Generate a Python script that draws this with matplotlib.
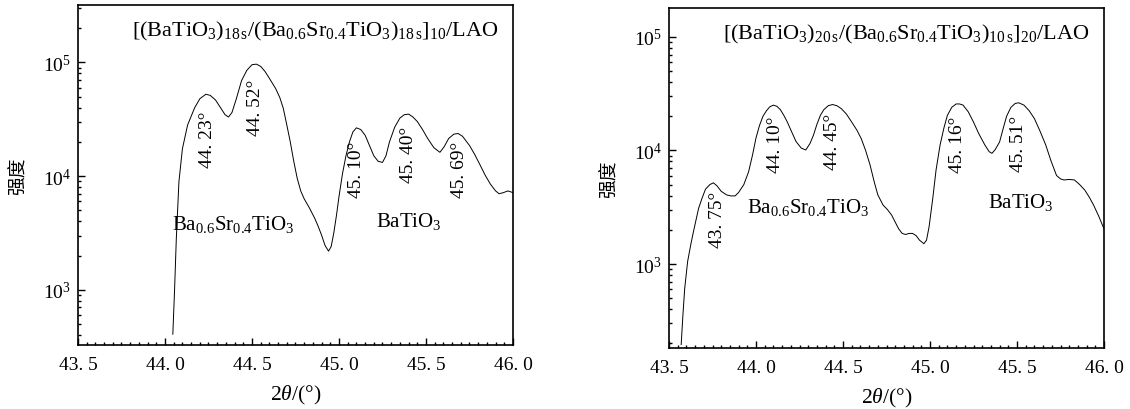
import matplotlib
matplotlib.use("Agg")
import matplotlib.pyplot as plt
from matplotlib.ticker import FixedLocator, FixedFormatter, LogLocator, NullFormatter

plt.rcParams['font.family'] = ['Liberation Serif', 'Noto Sans CJK SC']
plt.rcParams['mathtext.fontset'] = 'custom'
plt.rcParams['mathtext.rm'] = 'Liberation Serif'
plt.rcParams['mathtext.it'] = 'Liberation Serif:italic'

# left panel: [(BaTiO3)18s/(Ba0.6Sr0.4TiO3)18s]10/LAO
x_a = [44.045, 44.055, 44.065, 44.08, 44.10, 44.13, 44.17, 44.20, 44.235, 44.26,
       44.29, 44.32, 44.345, 44.365, 44.385, 44.41, 44.44, 44.47, 44.50, 44.525,
       44.55, 44.575, 44.60, 44.636, 44.66, 44.68, 44.70, 44.72, 44.74, 44.76,
       44.78, 44.80, 44.83, 44.86, 44.88, 44.90, 44.92, 44.94, 44.955, 44.97,
       44.985, 45.00, 45.02, 45.04, 45.06, 45.08, 45.10, 45.125, 45.15, 45.175,
       45.20, 45.225, 45.25, 45.27, 45.29, 45.32, 45.35, 45.375, 45.40, 45.425,
       45.45, 45.48, 45.51, 45.545, 45.58, 45.605, 45.63, 45.66, 45.685, 45.71,
       45.75, 45.78, 45.81, 45.84, 45.87, 45.90, 45.92, 45.945, 45.97, 46.0]
y_a = [407, 1000, 2820, 8910, 17400, 28200, 39800, 47900, 52500, 51300,
       46800, 39800, 34700, 33100, 36300, 47900, 69200, 85100, 95500, 96600,
       92300, 83200, 72400, 58900, 49000, 39400, 28200, 20000, 13500, 9550,
       7410, 6310, 5250, 4270, 3630, 3020, 2450, 2190, 2400, 3160,
       4470, 6610, 10500, 15100, 20000, 24500, 26600, 25700, 22900, 18600,
       15100, 13500, 13200, 15100, 20000, 26900, 32400, 34700, 35100, 33100,
       30200, 25700, 21400, 17800, 16200, 18200, 21400, 23400, 23700, 22400,
       18600, 15500, 12600, 10200, 8510, 7410, 7000, 7160, 7410, 7160]

# right panel: [(BaTiO3)20s/(Ba0.6Sr0.4TiO3)10s]20/LAO
x_b = [43.57, 43.58, 43.59, 43.607, 43.625, 43.64, 43.67, 43.69, 43.71, 43.735,
       43.755, 43.775, 43.80, 43.83, 43.855, 43.88, 43.90, 43.93, 43.957, 43.98,
       44.00, 44.02, 44.04, 44.06, 44.08, 44.10, 44.12, 44.14, 44.16, 44.18,
       44.205, 44.23, 44.26, 44.286, 44.31, 44.33, 44.35, 44.37, 44.39, 44.415,
       44.44, 44.465, 44.49, 44.52, 44.55, 44.58, 44.605, 44.63, 44.656, 44.68,
       44.70, 44.73, 44.755, 44.78, 44.80, 44.82, 44.84, 44.86, 44.88, 44.90,
       44.92, 44.94, 44.965, 44.98, 44.995, 45.016, 45.035, 45.058, 45.08, 45.10,
       45.125, 45.15, 45.17, 45.19, 45.22, 45.25, 45.28, 45.315, 45.34, 45.356,
       45.375, 45.40, 45.42, 45.44, 45.465, 45.49, 45.51, 45.54, 45.57, 45.60,
       45.63, 45.665, 45.695, 45.727, 45.75, 45.77, 45.80, 45.83, 45.86, 45.89,
       45.915, 45.94, 45.97, 46.0]
y_b = [195, 355, 603, 1050, 1480, 1910, 3090, 3800, 4570, 5010,
       5190, 4900, 4370, 4070, 3980, 3980, 4270, 5010, 6460, 9120,
       12900, 16600, 20000, 22400, 24300, 25100, 24500, 22900, 20400, 17800,
       14600, 12000, 10500, 10100, 11500, 13600, 17000, 20400, 22900, 24800,
       25400, 24800, 23400, 20900, 17800, 15100, 12700, 10000, 7410, 5250,
       4070, 3310, 3020, 2690, 2340, 2040, 1860, 1820, 1860, 1860,
       1780, 1620, 1510, 1620, 2140, 3800, 6760, 11200, 15800, 20400,
       24000, 25700, 25700, 25100, 21900, 17800, 14100, 11200, 9770, 9440,
       10200, 11900, 15500, 20000, 24000, 26000, 26300, 25100, 22400, 19100,
       15100, 11200, 8130, 6030, 5620, 5500, 5560, 5500, 5010, 4470,
       3890, 3310, 2630, 2040]

xticks = [43.5, 44.0, 44.5, 45.0, 45.5, 46.0]
xticklabels = ['43. 5', '44. 0', '44. 5', '45. 0', '45. 5', '46. 0']

peaks_a = ['44. 23°', '44. 52°', '45. 10°', '45. 40°', '45. 69°']
peaks_b = ['43. 75°', '44. 10°', '44. 45°', '45. 16°', '45. 51°']

title_a = r'[(BaTiO$_3$)$_{18\,\mathrm{s}}$/(Ba$_{0.6}$Sr$_{0.4}$TiO$_3$)$_{18\,\mathrm{s}}$]$_{10}$/LAO'
title_b = r'[(BaTiO$_3$)$_{20\,\mathrm{s}}$/(Ba$_{0.6}$Sr$_{0.4}$TiO$_3$)$_{10\,\mathrm{s}}$]$_{20}$/LAO'
bst = r'Ba$_{0.6}$Sr$_{0.4}$TiO$_3$'
bto = r'BaTiO$_3$'

W, H = 1130, 410
fig = plt.figure(figsize=(W / 100, H / 100), dpi=100)


def px(x0, y0, x1, y1):
    # axes rectangle from pixel corners
    return [x0 / W, 1 - y1 / H, (x1 - x0) / W, (y1 - y0) / H]


def style(ax, ylim):
    ax.set_yscale('log')
    ax.set_xlim(43.5, 46.0)
    ax.set_ylim(*ylim)
    ax.xaxis.set_major_locator(FixedLocator(xticks))
    ax.xaxis.set_major_formatter(FixedFormatter(xticklabels))
    ax.xaxis.set_minor_locator(FixedLocator([43.5 + 0.05 * i for i in range(51)]))
    ax.yaxis.set_major_locator(LogLocator(base=10, numticks=10))
    ax.yaxis.set_minor_locator(LogLocator(base=10, subs=range(2, 10), numticks=20))
    ax.yaxis.set_minor_formatter(NullFormatter())
    ax.tick_params(which='both', direction='in', top=False, right=False,
                   labelsize=14, width=1.0)
    ax.tick_params(axis='x', which='major', length=5, pad=8)
    ax.tick_params(axis='y', which='major', length=5, pad=5)
    ax.tick_params(which='minor', length=2.5)
    for s in ax.spines.values():
        s.set_linewidth(1.2)
    ax.set_xlabel(r'2$\theta$/(°)', fontsize=15.5, labelpad=7)
    ax.set_ylabel('强度', fontsize=13.5, family=['Noto Sans CJK SC'], labelpad=10)


def label(ax, x, ypix, top, s, rot=0, size=14):
    # ypix: pixel row in the figure, axes spans 340 px from row `top`
    ax.text(x, 1 - (ypix - top) / 340, s, transform=ax.get_xaxis_transform(),
            rotation=rot, fontsize=size, ha='center', va='center')


ax1 = fig.add_axes(px(78, 6, 513, 346))
ax1.plot(x_a, y_a, color='black', lw=0.7)
style(ax1, (327, 3.2e5))
ax1.text(0.545, 0.925, title_a, transform=ax1.transAxes, fontsize=16,
         ha='center', va='center')
pos_a = [(44.245, 140), (44.52, 108), (45.10, 170), (45.40, 155), (45.69, 170)]
for lab, (xx, yy) in zip(peaks_a, pos_a):
    label(ax1, xx, yy, 6, lab, rot=90)
label(ax1, 44.39, 225, 6, bst, size=15)
label(ax1, 45.40, 222, 6, bto, size=15)

ax2 = fig.add_axes(px(669, 9, 1104, 349))
ax2.plot(x_b, y_b, color='black', lw=0.7)
style(ax2, (182, 1.8e5))
ax2.text(0.545, 0.925, title_b, transform=ax2.transAxes, fontsize=16,
         ha='center', va='center')
pos_b = [(43.78, 220), (44.11, 145), (44.44, 142), (45.16, 145), (45.51, 144)]
for lab, (xx, yy) in zip(peaks_b, pos_b):
    label(ax2, xx, yy, 9, lab, rot=90)
label(ax2, 44.30, 208, 9, bst, size=15)
label(ax2, 45.52, 203, 9, bto, size=15)

fig.savefig('out.png', dpi=100)
